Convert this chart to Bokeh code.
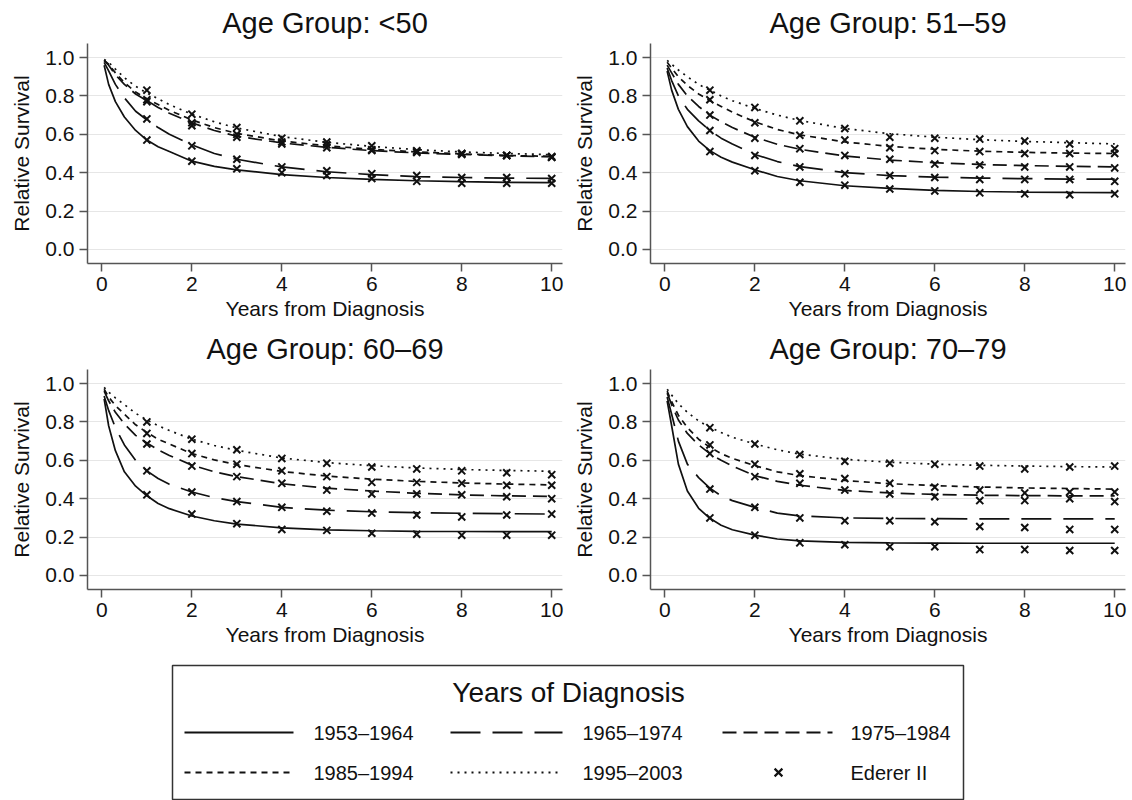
from bokeh.plotting import figure
from bokeh.layouts import column, row
from bokeh.models import Range1d, FixedTicker, NumeralTickFormatter
from bokeh.embed import file_html
from bokeh.resources import INLINE
from bokeh.core.properties import value

# ---------------- data ----------------
t_fit = [0.05, 0.15, 0.3, 0.5, 0.75, 1, 1.25, 1.5, 2, 2.5, 3, 4, 5, 6, 7, 8, 9, 10]
years = [1, 2, 3, 4, 5, 6, 7, 8, 9, 10]
cohorts = ["1953\u20131964", "1965\u20131974", "1975\u20131984", "1985\u20131994", "1995\u20132003"]
panel_titles = ["Age Group: <50", "Age Group: 51\u201359", "Age Group: 60\u201369", "Age Group: 70\u201379"]
x_ticks = [0, 2, 4, 6, 8, 10]
y_ticks = [0.0, 0.2, 0.4, 0.6, 0.8, 1.0]

# fitted curves, one list per cohort (1953-64, 1965-74, 1975-84, 1985-94, 1995-2003)
fit_lt50 = [
    [0.96, 0.86, 0.77, 0.69, 0.62, 0.57, 0.535, 0.51, 0.46, 0.433, 0.415, 0.39, 0.375, 0.365, 0.358, 0.353, 0.35, 0.348],
    [0.975, 0.93, 0.86, 0.79, 0.72, 0.675, 0.635, 0.60, 0.545, 0.50, 0.47, 0.43, 0.405, 0.39, 0.38, 0.375, 0.372, 0.37],
    [0.985, 0.96, 0.91, 0.86, 0.81, 0.775, 0.74, 0.71, 0.66, 0.62, 0.59, 0.555, 0.532, 0.515, 0.503, 0.495, 0.488, 0.483],
    [0.985, 0.965, 0.92, 0.87, 0.82, 0.785, 0.755, 0.725, 0.675, 0.635, 0.605, 0.565, 0.54, 0.522, 0.508, 0.498, 0.49, 0.485],
    [0.99, 0.975, 0.94, 0.895, 0.85, 0.815, 0.785, 0.755, 0.705, 0.665, 0.633, 0.588, 0.558, 0.537, 0.52, 0.508, 0.50, 0.494],
]
fit_51_59 = [
    [0.93, 0.83, 0.73, 0.64, 0.565, 0.515, 0.48, 0.455, 0.415, 0.38, 0.358, 0.332, 0.318, 0.308, 0.302, 0.299, 0.297, 0.296],
    [0.945, 0.88, 0.80, 0.73, 0.67, 0.62, 0.58, 0.55, 0.495, 0.458, 0.432, 0.40, 0.385, 0.377, 0.372, 0.369, 0.367, 0.366],
    [0.96, 0.92, 0.86, 0.80, 0.745, 0.70, 0.665, 0.635, 0.585, 0.548, 0.522, 0.487, 0.466, 0.452, 0.443, 0.437, 0.433, 0.43],
    [0.975, 0.945, 0.90, 0.855, 0.81, 0.775, 0.745, 0.715, 0.665, 0.625, 0.597, 0.56, 0.537, 0.522, 0.512, 0.506, 0.502, 0.50],
    [0.985, 0.965, 0.935, 0.90, 0.86, 0.83, 0.80, 0.775, 0.735, 0.70, 0.672, 0.63, 0.603, 0.585, 0.572, 0.563, 0.556, 0.55],
]
fit_60_69 = [
    [0.92, 0.78, 0.65, 0.54, 0.465, 0.415, 0.375, 0.348, 0.31, 0.285, 0.268, 0.248, 0.238, 0.233, 0.23, 0.229, 0.228, 0.228],
    [0.935, 0.86, 0.77, 0.68, 0.60, 0.545, 0.505, 0.475, 0.435, 0.405, 0.385, 0.355, 0.34, 0.332, 0.327, 0.324, 0.322, 0.32],
    [0.96, 0.91, 0.85, 0.79, 0.73, 0.69, 0.655, 0.625, 0.575, 0.54, 0.515, 0.478, 0.455, 0.44, 0.428, 0.42, 0.415, 0.412],
    [0.97, 0.93, 0.885, 0.84, 0.785, 0.745, 0.71, 0.685, 0.635, 0.602, 0.578, 0.542, 0.518, 0.502, 0.49, 0.482, 0.476, 0.472],
    [0.98, 0.955, 0.925, 0.89, 0.845, 0.81, 0.78, 0.755, 0.71, 0.677, 0.652, 0.612, 0.588, 0.572, 0.56, 0.552, 0.547, 0.543],
]
fit_70_79 = [
    [0.91, 0.78, 0.58, 0.44, 0.35, 0.298, 0.262, 0.238, 0.21, 0.19, 0.18, 0.172, 0.17, 0.169, 0.168, 0.168, 0.168, 0.168],
    [0.93, 0.84, 0.70, 0.58, 0.51, 0.455, 0.415, 0.39, 0.355, 0.325, 0.31, 0.30, 0.297, 0.296, 0.295, 0.295, 0.295, 0.295],
    [0.95, 0.89, 0.81, 0.74, 0.68, 0.635, 0.60, 0.57, 0.52, 0.49, 0.47, 0.443, 0.43, 0.422, 0.418, 0.416, 0.415, 0.415],
    [0.96, 0.905, 0.835, 0.77, 0.71, 0.668, 0.635, 0.61, 0.572, 0.54, 0.52, 0.495, 0.478, 0.468, 0.461, 0.456, 0.453, 0.45],
    [0.97, 0.94, 0.895, 0.85, 0.805, 0.772, 0.745, 0.72, 0.685, 0.655, 0.632, 0.605, 0.59, 0.58, 0.574, 0.57, 0.567, 0.565],
]

# Ederer II estimates at years 1..10, same cohort order
ed_lt50 = [
    [0.57, 0.46, 0.42, 0.40, 0.385, 0.37, 0.355, 0.345, 0.345, 0.345],
    [0.68, 0.54, 0.47, 0.43, 0.41, 0.395, 0.385, 0.375, 0.375, 0.37],
    [0.77, 0.645, 0.585, 0.55, 0.53, 0.515, 0.505, 0.495, 0.49, 0.48],
    [0.78, 0.66, 0.60, 0.56, 0.545, 0.52, 0.51, 0.50, 0.49, 0.48],
    [0.83, 0.705, 0.635, 0.58, 0.56, 0.54, 0.515, 0.50, 0.49, 0.485],
]
ed_51_59 = [
    [0.51, 0.41, 0.35, 0.335, 0.315, 0.305, 0.295, 0.29, 0.285, 0.29],
    [0.62, 0.49, 0.43, 0.395, 0.385, 0.375, 0.365, 0.365, 0.365, 0.355],
    [0.70, 0.58, 0.525, 0.49, 0.47, 0.445, 0.44, 0.43, 0.43, 0.425],
    [0.78, 0.66, 0.595, 0.57, 0.53, 0.515, 0.51, 0.50, 0.50, 0.50],
    [0.83, 0.74, 0.67, 0.63, 0.585, 0.58, 0.575, 0.565, 0.55, 0.525],
]
ed_60_69 = [
    [0.42, 0.32, 0.27, 0.24, 0.235, 0.22, 0.215, 0.21, 0.21, 0.21],
    [0.545, 0.435, 0.385, 0.355, 0.335, 0.325, 0.315, 0.305, 0.315, 0.32],
    [0.685, 0.57, 0.515, 0.48, 0.445, 0.425, 0.425, 0.42, 0.41, 0.40],
    [0.74, 0.635, 0.58, 0.545, 0.515, 0.485, 0.485, 0.48, 0.47, 0.47],
    [0.80, 0.71, 0.655, 0.61, 0.585, 0.565, 0.555, 0.545, 0.535, 0.525],
]
ed_70_79 = [
    [0.30, 0.21, 0.17, 0.16, 0.15, 0.15, 0.135, 0.135, 0.13, 0.13],
    [0.45, 0.355, 0.30, 0.285, 0.285, 0.28, 0.255, 0.25, 0.24, 0.24],
    [0.635, 0.515, 0.48, 0.445, 0.425, 0.41, 0.39, 0.39, 0.40, 0.385],
    [0.68, 0.58, 0.53, 0.505, 0.48, 0.46, 0.445, 0.43, 0.435, 0.435],
    [0.77, 0.685, 0.63, 0.595, 0.585, 0.58, 0.57, 0.555, 0.565, 0.57],
]

# ---------------- styles ----------------
FONT = "Liberation Sans"
INK = "#111111"
dashes = ["solid", "30 12", "14 7", "6 5", "2 5"]


def make_panel(title, fits, eds, left):
    p = figure(width=566, height=326,
               x_range=Range1d(-0.32, 10.24), y_range=Range1d(-0.073, 1.073),
               output_backend="svg", toolbar_location=None,
               min_border_left=left, min_border_right=566 - left - 475,
               min_border_top=43, min_border_bottom=63)
    p.title.text = title
    p.title.align = "center"
    p.title.text_font = FONT
    p.title.text_font_size = "29px"
    p.title.text_font_style = "normal"
    p.title.text_color = INK
    p.title.standoff = 9
    p.outline_line_color = None
    p.xgrid.grid_line_color = None
    p.ygrid.grid_line_color = "#e6e6e6"
    p.ygrid.grid_line_width = 1
    p.ygrid.ticker = FixedTicker(ticks=y_ticks)

    p.xaxis.ticker = FixedTicker(ticks=x_ticks)
    p.yaxis.ticker = FixedTicker(ticks=y_ticks)
    p.yaxis.formatter = NumeralTickFormatter(format="0.0")
    p.xaxis.axis_label = "Years from Diagnosis"
    p.yaxis.axis_label = "Relative Survival"
    for ax in (p.xaxis[0], p.yaxis[0]):
        ax.axis_label_text_font = FONT
        ax.axis_label_text_font_size = "21px"
        ax.axis_label_text_font_style = "normal"
        ax.axis_label_text_color = INK
        ax.major_label_text_font = FONT
        ax.major_label_text_font_size = "21px"
        ax.major_label_text_color = INK
        ax.axis_line_color = "#555555"
        ax.axis_line_width = 1.5
        ax.major_tick_line_color = "#555555"
        ax.major_tick_line_width = 1.5
        ax.major_tick_out = 8
        ax.major_tick_in = 0
        ax.minor_tick_line_color = None
    p.xaxis.major_label_standoff = 5
    p.xaxis.axis_label_standoff = 3
    p.yaxis.major_label_standoff = 5
    p.yaxis.axis_label_standoff = 9
    p.yaxis.major_label_orientation = "horizontal"

    for vals, dash in zip(fits, dashes):
        p.line(t_fit, vals, line_color=INK, line_width=1.7, line_dash=dash)
    for vals in eds:
        p.scatter(years, vals, marker="x", size=10, line_color=INK, line_width=2)
    return p


p1 = make_panel(panel_titles[0], fit_lt50, ed_lt50, 87)
p2 = make_panel(panel_titles[1], fit_51_59, ed_51_59, 84)
p3 = make_panel(panel_titles[2], fit_60_69, ed_60_69, 87)
p4 = make_panel(panel_titles[3], fit_70_79, ed_70_79, 84)

# ---------------- legend ----------------
leg = figure(width=1132, height=148, x_range=Range1d(0, 1132), y_range=Range1d(148, 0),
             output_backend="svg", toolbar_location=None,
             x_axis_location=None, y_axis_location=None,
             min_border_left=0, min_border_right=0, min_border_top=0, min_border_bottom=0)
leg.outline_line_color = None
leg.grid.visible = False
leg.quad(left=[172], right=[963], top=[13], bottom=[147], fill_color=None,
         line_color="#333333", line_width=1.5)
leg.text(x=[568], y=[40], text=["Years of Diagnosis"], text_font=value(FONT),
         text_font_size=value("28px"), text_align="center", text_baseline="middle",
         text_color=INK)

col_x = [(184, 293, 313), (450, 562, 582), (722, 832, 850)]
row_y = [80, 120]
slots = [(0, 0), (0, 1), (0, 2), (1, 0), (1, 1)]
for (r, c), name, dash in zip(slots, cohorts, dashes):
    x0, x1, xl = col_x[c]
    y = row_y[r]
    leg.line([x0, x1], [y, y], line_color=INK, line_width=2, line_dash=dash)
    leg.text(x=[xl], y=[y], text=[name], text_font=value(FONT), text_font_size=value("20px"),
             text_align="left", text_baseline="middle", text_color=INK)
leg.scatter([778], [120], marker="x", size=11, line_color=INK, line_width=2.2)
leg.text(x=[850], y=[120], text=["Ederer II"], text_font=value(FONT), text_font_size=value("20px"),
         text_align="left", text_baseline="middle", text_color=INK)

layout = column(row(p1, p2), row(p3, p4), leg)
open("out.html", "w").write(file_html(layout, INLINE))
